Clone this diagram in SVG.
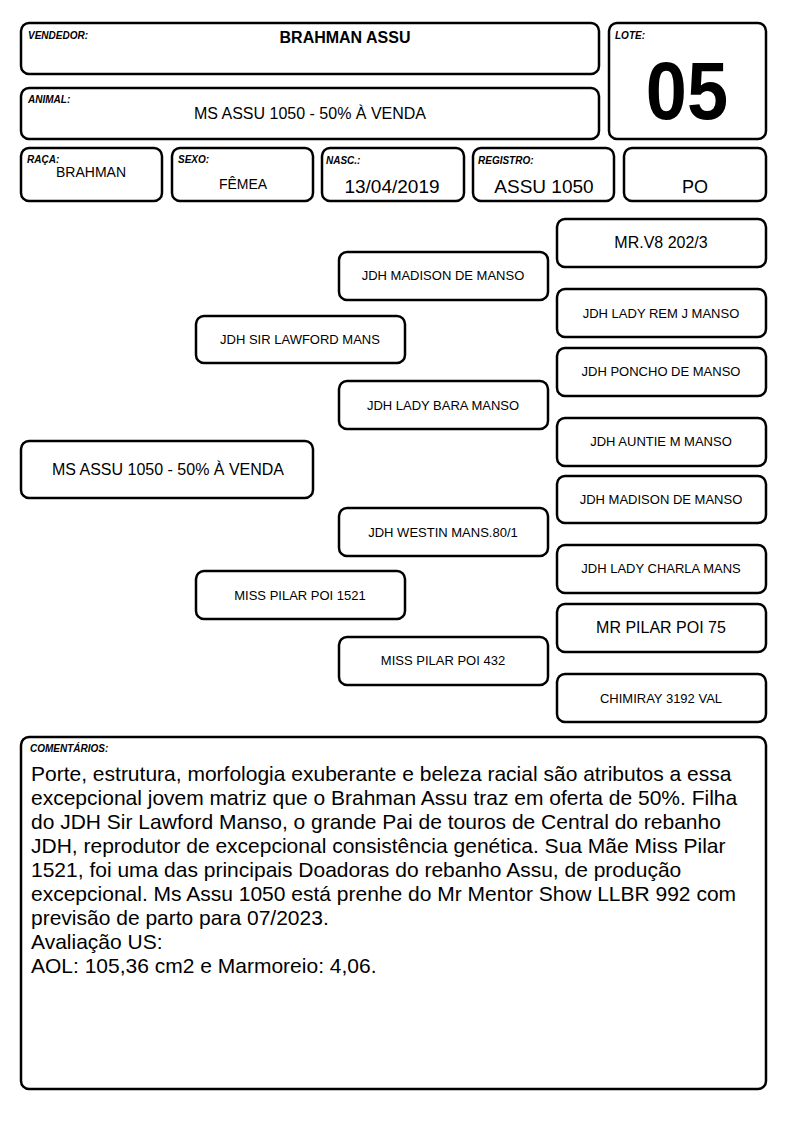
<svg xmlns="http://www.w3.org/2000/svg" width="794" height="1123" viewBox="0 0 794 1123">
<style>
.b{fill:#fff;stroke:#000;stroke-width:2.5}
.l{font-family:"Liberation Sans",Arial,sans-serif;font-size:10px;font-weight:bold;font-style:italic;fill:#000}
.t{font-family:"Liberation Sans",Arial,sans-serif;fill:#000;text-anchor:middle}
.s{font-size:13px}
.m{font-size:16px}
.c{font-family:"Liberation Sans",Arial,sans-serif;font-size:21px;fill:#000}
</style>
<rect width="794" height="1123" fill="#fff"/>
<g id="vendedor"><rect class="b" x="21" y="23" width="578" height="51" rx="8"/><text class="l" x="28" y="39">VENDEDOR:</text><text class="t" x="345" y="43" font-size="16" font-weight="bold">BRAHMAN ASSU</text></g>
<g id="animal"><rect class="b" x="21" y="88" width="578" height="51" rx="8"/><text class="l" x="28" y="103">ANIMAL:</text><text class="t m" x="310" y="119">MS ASSU 1050 - 50% À VENDA</text></g>
<g id="lote"><rect class="b" x="609" y="23" width="157" height="116" rx="8"/><text class="l" x="615" y="39">LOTE:</text><text class="t" x="687" y="119" font-size="74" font-weight="bold" transform="translate(0 119) scale(1 1.1) translate(0 -119)">05</text></g>
<g id="raca"><rect class="b" x="21" y="148" width="141" height="53" rx="8"/><text class="l" x="27" y="163">RAÇA:</text><text class="t" x="91" y="177" font-size="14">BRAHMAN</text></g>
<g id="sexo"><rect class="b" x="172" y="148" width="141" height="53" rx="8"/><text class="l" x="178" y="163">SEXO:</text><text class="t" x="243" y="189" font-size="14">FÊMEA</text></g>
<g id="nasc"><rect class="b" x="322" y="148" width="142" height="53" rx="8"/><text class="l" x="326" y="164">NASC.:</text><text class="t" x="392" y="193" font-size="19">13/04/2019</text></g>
<g id="registro"><rect class="b" x="473" y="148" width="141" height="53" rx="8"/><text class="l" x="478" y="164">REGISTRO:</text><text class="t" x="544" y="193" font-size="19">ASSU 1050</text></g>
<g id="po"><rect class="b" x="624" y="148" width="142" height="53" rx="8"/><text class="t" x="695" y="193" font-size="18">PO</text></g>
<g id="connectors"></g>
<g id="p0"><rect class="b" x="21" y="441" width="292" height="57" rx="8"/><text class="t m" x="168" y="475">MS ASSU 1050 - 50% À VENDA</text></g>
<g id="p1"><rect class="b" x="196" y="316" width="209" height="47" rx="8"/><text class="t s" x="300" y="344">JDH SIR LAWFORD MANS</text></g>
<g id="p2"><rect class="b" x="196" y="571" width="209" height="48" rx="8"/><text class="t s" x="300" y="600">MISS PILAR POI 1521</text></g>
<g id="p3"><rect class="b" x="339" y="252" width="209" height="48" rx="8"/><text class="t s" x="443" y="280">JDH MADISON DE MANSO</text></g>
<g id="p4"><rect class="b" x="339" y="381" width="209" height="48" rx="8"/><text class="t s" x="443" y="410">JDH LADY BARA MANSO</text></g>
<g id="p5"><rect class="b" x="339" y="508" width="209" height="48" rx="8"/><text class="t s" x="443" y="537">JDH WESTIN MANS.80/1</text></g>
<g id="p6"><rect class="b" x="339" y="637" width="209" height="48" rx="8"/><text class="t s" x="443" y="665">MISS PILAR POI 432</text></g>
<g id="p7"><rect class="b" x="557" y="219" width="209" height="48" rx="8"/><text class="t m" x="661" y="248">MR.V8 202/3</text></g>
<g id="p8"><rect class="b" x="557" y="289" width="209" height="48" rx="8"/><text class="t s" x="661" y="318">JDH LADY REM J MANSO</text></g>
<g id="p9"><rect class="b" x="557" y="348" width="209" height="48" rx="8"/><text class="t s" x="661" y="376">JDH PONCHO DE MANSO</text></g>
<g id="p10"><rect class="b" x="557" y="418" width="209" height="48" rx="8"/><text class="t s" x="661" y="446">JDH AUNTIE M MANSO</text></g>
<g id="p11"><rect class="b" x="557" y="476" width="209" height="47" rx="8"/><text class="t s" x="661" y="504">JDH MADISON DE MANSO</text></g>
<g id="p12"><rect class="b" x="557" y="545" width="209" height="48" rx="8"/><text class="t s" x="661" y="573">JDH LADY CHARLA MANS</text></g>
<g id="p13"><rect class="b" x="557" y="604" width="209" height="48" rx="8"/><text class="t m" x="661" y="633">MR PILAR POI 75</text></g>
<g id="p14"><rect class="b" x="557" y="674" width="209" height="48" rx="8"/><text class="t s" x="661" y="703">CHIMIRAY 3192 VAL</text></g>
<g id="comentarios"><rect class="b" x="21" y="737" width="745" height="352" rx="8"/><text class="l" x="30" y="752">COMENTÁRIOS:</text>
<text class="c"><tspan x="31" y="781">Porte, estrutura, morfologia exuberante e beleza racial são atributos a essa</tspan><tspan x="31" y="805">excepcional jovem matriz que o Brahman Assu traz em oferta de 50%. Filha</tspan><tspan x="31" y="829">do JDH Sir Lawford Manso, o grande Pai de touros de Central do rebanho</tspan><tspan x="31" y="853">JDH, reprodutor de excepcional consistência genética. Sua Mãe Miss Pilar</tspan><tspan x="31" y="877">1521, foi uma das principais Doadoras do rebanho Assu, de produção</tspan><tspan x="31" y="901">excepcional. Ms Assu 1050 está prenhe do Mr Mentor Show LLBR 992 com</tspan><tspan x="31" y="925">previsão de parto para 07/2023.</tspan><tspan x="31" y="949">Avaliação US:</tspan><tspan x="31" y="973">AOL: 105,36 cm2 e Marmoreio: 4,06.</tspan></text></g>
</svg>
